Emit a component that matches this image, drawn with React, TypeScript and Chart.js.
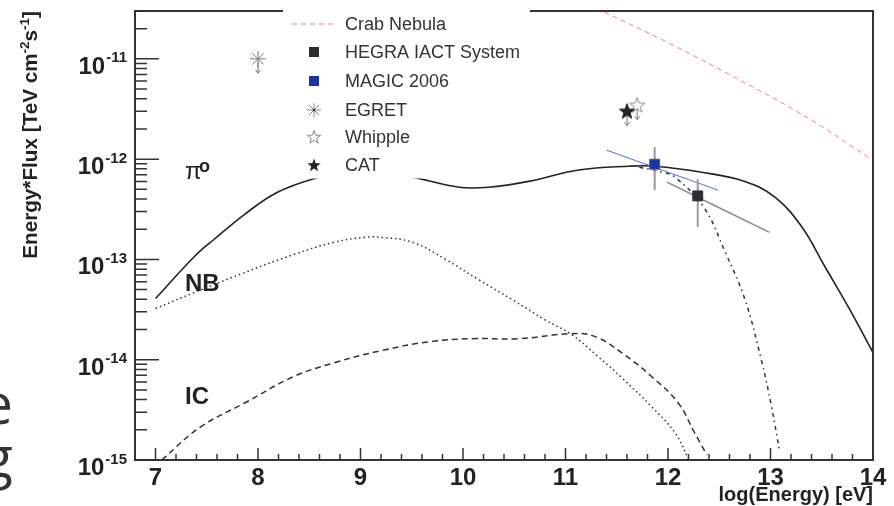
import React, { useEffect, useRef } from "react";
import { Chart, registerables } from "chart.js";
Chart.register(...registerables);

// ---------- data ----------
const pi0Energy = [7.0, 7.38, 7.57, 7.87, 8.19, 8.56, 8.8, 9.1, 9.3, 9.54, 9.96, 10.25, 10.64, 11.13, 11.62, 11.87, 12.33, 12.75, 13.04, 13.3, 13.53, 13.79, 14.0];
const pi0Flux = [4.07e-14, 1.07e-13, 1.58e-13, 2.82e-13, 4.68e-13, 6.46e-13, 7.1e-13, 7.4e-13, 7.1e-13, 6.5e-13, 5.25e-13, 5.25e-13, 6.0e-13, 7.8e-13, 8.5e-13, 8.5e-13, 7.4e-13, 6.0e-13, 4.2e-13, 2.15e-13, 8.5e-14, 2.95e-14, 1.18e-14];

const nbEnergy = [7.0, 7.38, 7.87, 8.35, 8.74, 9.04, 9.2, 9.51, 9.83, 10.15, 10.48, 10.8, 11.06, 11.32, 11.55, 11.84, 12.07, 12.2];
const nbFlux = [3.24e-14, 4.68e-14, 7.4e-14, 1.12e-13, 1.48e-13, 1.66e-13, 1.66e-13, 1.48e-13, 1.0e-13, 6.3e-14, 3.98e-14, 2.5e-14, 1.78e-14, 1.07e-14, 6.6e-15, 3.4e-15, 1.86e-15, 1.02e-15];

const icEnergy = [7.06, 7.44, 7.87, 8.35, 8.74, 9.2, 9.67, 10.09, 10.54, 11.06, 11.29, 11.55, 11.84, 12.1, 12.26, 12.38];
const icFlux = [1.0e-15, 2.14e-15, 3.7e-15, 6.8e-15, 9.3e-15, 1.23e-14, 1.51e-14, 1.62e-14, 1.62e-14, 1.82e-14, 1.7e-14, 1.17e-14, 6.8e-15, 3.7e-15, 1.86e-15, 1.12e-15];

const cutEnergy = [11.72, 11.95, 12.07, 12.35, 12.56, 12.75, 12.91, 13.01, 13.09];
const cutFlux = [8.3e-13, 7.4e-13, 6.6e-13, 3.3e-13, 1.17e-13, 4.0e-14, 1.0e-14, 3.4e-15, 1.2e-15];

const crabEnergy = [11.3, 12.0, 12.72, 13.4, 13.98];
const crabFlux = [3.2e-11, 1.45e-11, 6.0e-12, 2.45e-12, 1.0e-12];

const magicFitEnergy = [11.4, 12.49];
const magicFitFlux = [1.23e-12, 4.9e-13];
const hegraFitEnergy = [11.99, 12.99];
const hegraFitFlux = [5.9e-13, 1.86e-13];

const magicPoint = { x: 11.87, y: 8.9e-13, lo: 4.9e-13, hi: 1.32e-12 };
const hegraPoint = { x: 12.29, y: 4.3e-13, lo: 2.1e-13, hi: 6.3e-13 };
const egretPoint = { x: 8.0, y: 1.0e-11 };
const catPoint = { x: 11.6, y: 3.0e-12 };
const whipplePoint = { x: 11.7, y: 3.45e-12 };

const xTickValues = [7, 8, 9, 10, 11, 12, 13, 14];
const yTickExps = [-15, -14, -13, -12, -11];
const legendLabels = ["Crab Nebula", "HEGRA IACT System", "MAGIC 2006", "EGRET", "Whipple", "CAT"];
const curveLabels = [
  { text: "NB", x: 185, y: 291 },
  { text: "IC", x: 185, y: 404 },
];

const FONT = '"Liberation Sans", Arial, sans-serif';

function zip(xs: number[], ys: number[]) {
  return xs.map((x, i) => ({ x, y: ys[i] }));
}

function starPath(ctx: CanvasRenderingContext2D, cx: number, cy: number, R: number, r: number) {
  ctx.beginPath();
  for (let i = 0; i < 10; i++) {
    const a = -Math.PI / 2 + (i * Math.PI) / 5;
    const rad = i % 2 === 0 ? R : r;
    ctx.lineTo(cx + rad * Math.cos(a), cy + rad * Math.sin(a));
  }
  ctx.closePath();
}

function makeStar(fill: string | null, stroke: string) {
  const c = document.createElement("canvas");
  c.width = 18;
  c.height = 18;
  const ctx = c.getContext("2d")!;
  starPath(ctx, 9, 9.5, 8, 3.3);
  if (fill) {
    ctx.fillStyle = fill;
    ctx.fill();
  }
  ctx.strokeStyle = stroke;
  ctx.lineWidth = 1;
  ctx.stroke();
  return c;
}

function asterisk(ctx: CanvasRenderingContext2D, x: number, y: number, r: number, color: string) {
  ctx.save();
  ctx.strokeStyle = color;
  ctx.lineWidth = 1;
  ctx.beginPath();
  for (let i = 0; i < 4; i++) {
    const a = (i * Math.PI) / 4;
    ctx.moveTo(x - r * Math.cos(a), y - r * Math.sin(a));
    ctx.lineTo(x + r * Math.cos(a), y + r * Math.sin(a));
  }
  ctx.stroke();
  ctx.fillStyle = "#333";
  ctx.beginPath();
  ctx.arc(x, y, 1.3, 0, Math.PI * 2);
  ctx.fill();
  ctx.restore();
}

export default function App() {
  const ref = useRef<HTMLCanvasElement>(null);

  useEffect(() => {
    const canvas = ref.current!;
    const catStar = makeStar("#222", "#222");
    const whippleStar = makeStar(null, "#888");

    const overlay = {
      id: "overlay",
      beforeDatasetsDraw(chart: any) {
        const ctx: CanvasRenderingContext2D = chart.ctx;
        const xs = chart.scales.x;
        const ys = chart.scales.y;
        ctx.save();
        ctx.strokeStyle = "#777";
        ctx.lineWidth = 1;
        for (const p of [egretPoint, catPoint, whipplePoint]) {
          const px = xs.getPixelForValue(p.x);
          const py = ys.getPixelForValue(p.y);
          ctx.beginPath();
          ctx.moveTo(px, py + 3);
          ctx.lineTo(px, py + 14);
          ctx.stroke();
          ctx.beginPath();
          ctx.moveTo(px - 2.5, py + 11);
          ctx.lineTo(px, py + 14.5);
          ctx.lineTo(px + 2.5, py + 11);
          ctx.stroke();
        }
        ctx.restore();
      },
      afterDatasetsDraw(chart: any) {
        const ctx: CanvasRenderingContext2D = chart.ctx;
        const a = chart.chartArea;
        const xs = chart.scales.x;
        const ys = chart.scales.y;
        ctx.save();
        // frame
        ctx.strokeStyle = "#333";
        ctx.lineWidth = 2;
        ctx.strokeRect(a.left, a.top, a.right - a.left, a.bottom - a.top);
        // y ticks
        ctx.lineWidth = 1.5;
        ctx.beginPath();
        for (let e = yTickExps[0]; e <= yTickExps[yTickExps.length - 1] + 1; e++) {
          for (let k = 1; k <= 9; k++) {
            const v = k * Math.pow(10, e);
            if (v < ys.min * 0.999 || v > ys.max * 1.001) continue;
            const py = ys.getPixelForValue(v);
            const len = k === 1 ? 24 : 12;
            ctx.moveTo(a.left, py);
            ctx.lineTo(a.left + len, py);
          }
        }
        // x ticks
        for (let i = 0; i <= 40; i++) {
          const v = 6 + i * 0.2;
          if (v < xs.min + 0.05 || v > xs.max - 0.05) continue;
          const px = xs.getPixelForValue(v);
          const major = Math.abs(v - Math.round(v)) < 1e-6;
          ctx.moveTo(px, a.bottom);
          ctx.lineTo(px, a.bottom - (major ? 12 : 6));
        }
        ctx.stroke();

        ctx.fillStyle = "#222";
        // y tick labels
        ctx.textAlign = "left";
        ctx.textBaseline = "alphabetic";
        for (const e of yTickExps) {
          const py = ys.getPixelForValue(Math.pow(10, e));
          ctx.font = `bold 24px ${FONT}`;
          const wb = ctx.measureText("10").width;
          ctx.font = `bold 15px ${FONT}`;
          const sup = String(e);
          const ws = ctx.measureText(sup).width;
          const start = 127 - (wb + 1 + ws);
          ctx.font = `bold 24px ${FONT}`;
          ctx.fillText("10", start, py + 15);
          ctx.font = `bold 15px ${FONT}`;
          ctx.fillText(sup, start + wb + 1, py + 3.5);
        }
        // x tick labels
        ctx.font = `bold 24px ${FONT}`;
        ctx.textAlign = "center";
        for (const v of xTickValues) {
          ctx.fillText(String(v), xs.getPixelForValue(v), 485);
        }
        // x title
        ctx.font = `bold 20px ${FONT}`;
        ctx.textAlign = "right";
        ctx.fillText("log(Energy) [eV]", a.right, 501);

        // y title (rotated, right-aligned to top)
        const parts: [string, boolean][] = [
          ["Energy*Flux [TeV cm", false],
          ["-2", true],
          ["s", false],
          ["-1", true],
          ["]", false],
        ];
        const mf = (s: boolean) => (s ? `bold 13.5px ${FONT}` : `bold 20.7px ${FONT}`);
        let total = 0;
        for (const [t, s] of parts) {
          ctx.font = mf(s);
          total += ctx.measureText(t).width;
        }
        ctx.save();
        ctx.translate(37, a.top);
        ctx.rotate(-Math.PI / 2);
        ctx.textAlign = "left";
        let cx = -total;
        for (const [t, s] of parts) {
          ctx.font = mf(s);
          ctx.fillText(t, cx, s ? -8 : 0);
          cx += ctx.measureText(t).width;
        }
        ctx.restore();

        // curve labels
        ctx.textAlign = "left";
        ctx.fillStyle = "#222";
        ctx.font = `24px ${FONT}`;
        ctx.fillText("\u03c0", 185, 179);
        ctx.font = `bold 18px ${FONT}`;
        ctx.fillText("o", 199, 172);
        ctx.font = `bold 24px ${FONT}`;
        for (const l of curveLabels) ctx.fillText(l.text, l.x, l.y);
        ctx.restore();
      },
      afterDraw(chart: any) {
        const ctx: CanvasRenderingContext2D = chart.ctx;
        ctx.save();
        ctx.fillStyle = "#ffffff";
        ctx.fillRect(283, 0, 247, 178.5);
        const mx = 314;
        const rows = [24, 52, 81, 110, 137, 165];
        // Crab
        ctx.strokeStyle = "#ff7a7a";
        ctx.lineWidth = 1;
        ctx.setLineDash([5, 4]);
        ctx.beginPath();
        ctx.moveTo(292, rows[0]);
        ctx.lineTo(336, rows[0]);
        ctx.stroke();
        ctx.setLineDash([]);
        // HEGRA
        ctx.fillStyle = "#2b2d33";
        ctx.fillRect(mx - 5, rows[1] - 5, 10, 10);
        // MAGIC
        ctx.fillStyle = "#1a34a0";
        ctx.fillRect(mx - 5, rows[2] - 5, 10, 10);
        // EGRET
        asterisk(ctx, mx, rows[3], 7, "#888");
        // Whipple
        starPath(ctx, mx, rows[4] + 0.5, 7, 2.9);
        ctx.strokeStyle = "#888";
        ctx.lineWidth = 1;
        ctx.stroke();
        // CAT
        starPath(ctx, mx, rows[5] + 0.5, 7, 2.9);
        ctx.fillStyle = "#222";
        ctx.fill();
        // labels
        ctx.fillStyle = "#333";
        ctx.font = `18px ${FONT}`;
        ctx.textAlign = "left";
        ctx.textBaseline = "middle";
        legendLabels.forEach((t, i) => ctx.fillText(t, 345, rows[i] + 1));
        ctx.restore();
      },
    };

    const line = (data: any[], color: string, width: number, dash: number[] = []) => ({
      data,
      showLine: true,
      borderColor: color,
      backgroundColor: color,
      borderWidth: width,
      borderDash: dash,
      pointRadius: 0,
      tension: 0.4,
      fill: false,
    });

    const chart = new Chart(canvas, {
      type: "scatter",
      data: {
        datasets: [
          {
            data: [{ x: magicPoint.x, y: magicPoint.y }],
            pointStyle: "rect",
            pointRadius: 7,
            backgroundColor: "#1a34a0",
            borderColor: "#3050c0",
            borderWidth: 1,
          },
          {
            data: [{ x: hegraPoint.x, y: hegraPoint.y }],
            pointStyle: "rect",
            pointRadius: 7,
            backgroundColor: "#2b2d33",
            borderColor: "#2b2d33",
            borderWidth: 1,
          },
          {
            data: [{ x: egretPoint.x, y: egretPoint.y }],
            pointStyle: "star",
            pointRadius: 8,
            borderColor: "#777",
            borderWidth: 1,
          },
          {
            data: [{ x: catPoint.x, y: catPoint.y }],
            pointStyle: catStar as any,
            pointRadius: 7,
          },
          {
            data: [{ x: whipplePoint.x, y: whipplePoint.y }],
            pointStyle: whippleStar as any,
            pointRadius: 7,
          },
          line([{ x: magicPoint.x, y: magicPoint.lo }, { x: magicPoint.x, y: magicPoint.hi }], "#999", 2),
          line([{ x: hegraPoint.x, y: hegraPoint.lo }, { x: hegraPoint.x, y: hegraPoint.hi }], "#999", 2),
          line(zip(magicFitEnergy, magicFitFlux), "#4a6fd6", 1),
          line(zip(hegraFitEnergy, hegraFitFlux), "#8a8a8a", 1.5),
          line(zip(crabEnergy, crabFlux), "#ff7a7a", 1, [5, 4]),
          line(zip(cutEnergy, cutFlux), "#333", 1.5, [4, 4, 1.5, 4]),
          line(zip(pi0Energy, pi0Flux), "#222", 1.6),
          line(zip(nbEnergy, nbFlux), "#333", 1.5, [1.5, 3]),
          line(zip(icEnergy, icFlux), "#333", 1.5, [6, 4]),
        ],
      },
      options: {
        responsive: false,
        animation: false,
        layout: { padding: { left: 135, right: 21, top: 11, bottom: 46 } },
        plugins: { legend: { display: false }, tooltip: { enabled: false }, title: { display: false } },
        events: [],
        scales: {
          x: { type: "linear", min: 6.8, max: 14, display: false },
          y: { type: "logarithmic", min: 1e-15, max: 3e-11, display: false },
        },
      },
      plugins: [overlay],
    });
    return () => chart.destroy();
  }, []);

  const bigText: React.CSSProperties = {
    position: "absolute",
    right: 881,
    whiteSpace: "nowrap",
    fontFamily: '"Open Sans", sans-serif',
    fontSize: 56,
    lineHeight: "56px",
    color: "#333",
    margin: 0,
  };

  return (
    <div style={{ position: "fixed", left: 0, top: 0, width: 894, height: 506, background: "#fff", overflow: "hidden" }}>
      <canvas ref={ref} width={894} height={506} style={{ position: "absolute", left: 0, top: 0, width: 894, height: 506 }} />
      <div style={{ ...bigText, top: 374 }}>e</div>
      <div style={{ ...bigText, top: 427 }}>g</div>
    </div>
  );
}
